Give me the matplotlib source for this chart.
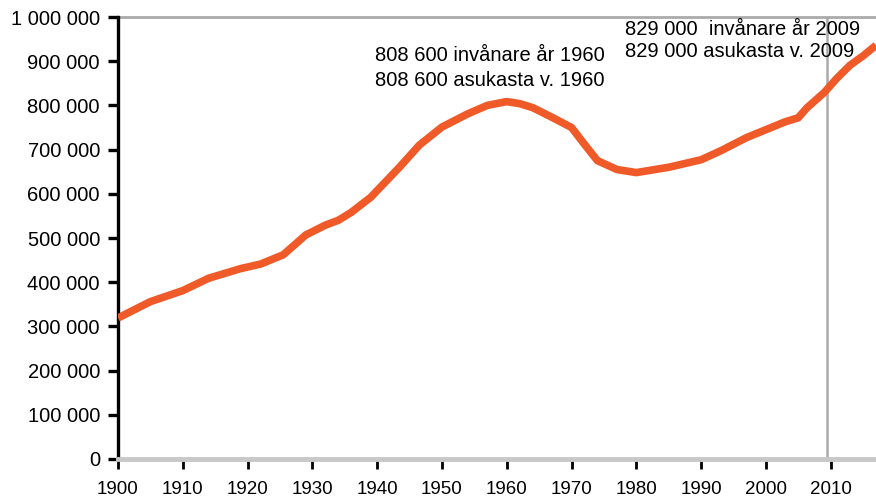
import matplotlib
matplotlib.use("Agg")
import matplotlib.pyplot as plt
from matplotlib.ticker import FuncFormatter

plt.rcParams["font.family"] = ["Liberation Sans", "DejaVu Sans"]

# population
years = [1900, 1905, 1910, 1914, 1919, 1922, 1925.5, 1929, 1932, 1934, 1936,
         1939, 1943.5, 1946.5, 1950, 1954, 1957, 1960, 1962, 1964, 1967,
         1970, 1972, 1974, 1977, 1980, 1985, 1990, 1993, 1997, 2000, 2003,
         2005, 2006.3, 2009, 2011, 2013, 2015, 2017]
population = [319000, 356000, 381000, 409000, 431000, 441000, 462000, 507000,
              529000, 540000, 558000, 592000, 661000, 710000, 751000, 781000,
              800000, 808600, 804000, 795000, 773000, 750000, 712000, 675000,
              655000, 648000, 660000, 677000, 697000, 727000, 745000, 763000,
              772000, 794000, 829000, 862000, 891000, 912000, 936000]

xticks = list(range(1900, 2011, 10))
yticks = list(range(0, 1000001, 100000))

fig = plt.figure(figsize=(8.76, 5.01), dpi=100)
ax = fig.add_axes([118 / 876, 42 / 501, 1 - 118 / 876, 442 / 501])

ax.plot(years, population, color="#F05A28", lw=5.5, solid_capstyle="butt",
        solid_joinstyle="round", zorder=3)
ax.axvline(2009.5, ymin=0, ymax=1, color="#aaaaaa", lw=1.8, zorder=2)
ax.axhline(1000000, color="#aaaaaa", lw=2, zorder=2, clip_on=False)

ax.set_xlim(1900, 2017)
ax.set_ylim(0, 1000000)
ax.set_xticks(xticks)
ax.set_yticks(yticks)
ax.yaxis.set_major_formatter(FuncFormatter(lambda v, p: f"{int(v):,}".replace(",", " ")))

for s in ["top", "right"]:
    ax.spines[s].set_visible(False)
ax.spines["left"].set_linewidth(2.4)
ax.spines["bottom"].set_color("#c8c8c8")
ax.spines["bottom"].set_linewidth(3.5)
ax.spines["bottom"].set_zorder(4)

ax.tick_params(axis="y", length=7, width=2.4, labelsize=14.5, pad=6, direction="out")
ax.tick_params(axis="x", length=7, width=2, labelsize=13.5, pad=9, direction="out")

ax.text(1939.7, 914000, "808 600 invånare år 1960", fontsize=14.5, va="center")
ax.text(1939.7, 857000, "808 600 asukasta v. 1960", fontsize=14.5, va="center")
ax.text(1978.2, 972000, "829 000  invånare år 2009", fontsize=14.5, va="center")
ax.text(1978.2, 921000, "829 000 asukasta v. 2009", fontsize=14.5, va="center")

fig.savefig("out.png", dpi=100)
